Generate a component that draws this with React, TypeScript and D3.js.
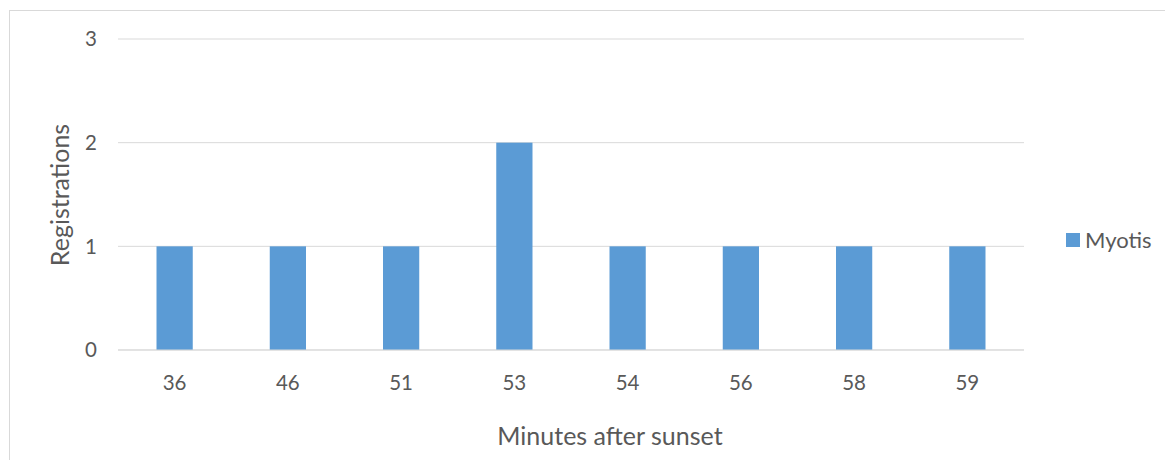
import React from "react";
import * as d3 from "d3";

const categories = ["36", "46", "51", "53", "54", "56", "58", "59"];
const values = [1, 1, 1, 2, 1, 1, 1, 1];
const yTicks = [0, 1, 2, 3];
const seriesName = "Myotis";

export default function App() {
  const W = 1165, H = 460;
  const left = 118, right = 1024, top = 39, bottom = 350;
  const x = d3.scaleBand<string>().domain(categories).range([left, right]).paddingInner(0.68).paddingOuter(0.34);
  const y = d3.scaleLinear().domain([0, 3]).range([bottom, top]);
  const font = "Lato, sans-serif";
  const txt = "#595959";
  return (
    <svg width={W} height={H} style={{ position: "absolute", left: 0, top: 0 }}>
      <rect x={0} y={0} width={W} height={H} fill="#fff" />
      <rect x={9.5} y={10.5} width={W + 10} height={H + 10} fill="none" stroke="#d9d9d9" strokeWidth={1} />
      {yTicks.map((t) => (
        <g key={t}>
          <line x1={left} x2={right} y1={y(t)} y2={y(t)} stroke="#d9d9d9" strokeWidth={1} />
          <text x={97} y={y(t)} dy="0.35em" textAnchor="end" fontFamily={font} fontSize={20.5} fill={txt}>{t}</text>
        </g>
      ))}
      {categories.map((c, i) => (
        <g key={c}>
          <rect x={x(c)!} y={y(values[i])} width={x.bandwidth()} height={y(0) - y(values[i])} fill="#5b9bd5" />
          <text x={x(c)! + x.bandwidth() / 2} y={383} dy="0.35em" textAnchor="middle" fontFamily={font} fontSize={20.5} fill={txt}>{c}</text>
        </g>
      ))}
      <line x1={left} x2={right} y1={y(0)} y2={y(0)} stroke="#d9d9d9" strokeWidth={1} />
      <text transform={`translate(60,195) rotate(-90)`} dy="0.35em" textAnchor="middle" fontFamily={font} fontSize={25} fill={txt}>Registrations</text>
      <text x={610} y={436} dy="0.35em" textAnchor="middle" fontFamily={font} fontSize={25} fill={txt}>Minutes after sunset</text>
      <rect x={1066} y={233} width={14} height={14} fill="#5b9bd5" />
      <text x={1085} y={240} dy="0.35em" fontFamily={font} fontSize={22} fill={txt}>{seriesName}</text>
    </svg>
  );
}
